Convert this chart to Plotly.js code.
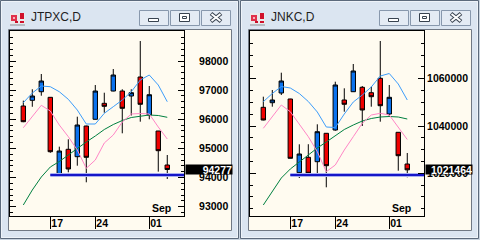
<!DOCTYPE html>
<html><head><meta charset="utf-8">
<script src="https://cdn.plot.ly/plotly-3.0.1.min.js"></script>
<style>html,body{margin:0;padding:0;background:#c9d4e0;}#chart{width:480px;height:240px;}</style>
</head><body><div id="chart"></div>
<script>
// ---------- data ----------
const dates = ['2015-08-12','2015-08-13','2015-08-14','2015-08-17','2015-08-18','2015-08-19','2015-08-20','2015-08-21',
               '2015-08-24','2015-08-25','2015-08-26','2015-08-27','2015-08-28','2015-08-31','2015-09-01','2015-09-02','2015-09-03'];
const tickDates = ['2015-08-17','2015-08-24','2015-09-01'];
const tickLabels = ['17','24','01'];
const monthDate = '2015-09-01';
const monthLabel = 'Sep';
const supportStart = '2015-08-17';

// JTPXC,D
const jtTitle = 'JTPXC,D';
const jtOpen  = [96456,96651,96946,96754,94122,94970,94716,95769,96000,96548,96970,96970,96799,97451,96147,95598,94431];
const jtHigh  = [96640,97030,97554,96760,95060,95313,96089,95780,97176,96912,97725,97030,97029,98686,97142,95600,94774];
const jtLow   = [95900,96430,96809,94850,94098,94180,94407,93837,95990,96226,96960,95519,96130,95917,96000,94203,93951];
const jtClose = [95917,96799,97314,94887,94911,94294,95804,94695,96970,96445,97520,96377,96912,96514,96843,94922,94277];
const jtBlue  = [96569,96902,97142,97118,96946,96686,96318,95838,95838,96205,96432,96662,96946,97348,97520,97176,96603];
const jtPink  = [95711,96088,96480,96284,95804,95403,94946,94318,94602,95186,95461,95907,96181,96198,96181,95735,95323];
const jtGreen = [93058,93573,94019,94362,94551,94774,95014,95220,95426,95649,95821,95958,96061,96112,96147,96130,96068];
const jtSupport = 94090;
const jtTicks = [93000,94000,95000,96000,97000,98000];

// JNKC,D
const jnTitle = 'JNKC,D';
const jnOpen  = [1047900,1049850,1053950,1051420,1020260,1026770,1024910,1036915,1038310,1051000,1054500,1056360,1054080,1060170,1045075,1037340,1023935];
const jnHigh  = [1052390,1055220,1062540,1051500,1032260,1032300,1040720,1037000,1058730,1055940,1066215,1056900,1056620,1075940,1057336,1037400,1028590];
const jnLow   = [1042400,1048160,1053100,1026300,1018020,1019600,1019700,1014084,1038000,1046050,1054400,1040000,1048160,1041820,1043800,1021100,1018310];
const jnClose = [1042540,1051000,1059030,1026345,1028160,1020000,1037590,1023216,1057340,1049180,1063260,1046770,1052390,1048580,1052136,1027440,1021464];
const jnBlue  = [1050276,1053743,1056702,1056068,1053743,1050360,1045921,1039579,1039367,1045075,1050149,1053108,1056491,1061142,1062199,1057759,1050994];
const jnPink  = [1039029,1044018,1048880,1046048,1040636,1035478,1029136,1020680,1023513,1029855,1035478,1041143,1044653,1045371,1044653,1039706,1034294];
const jnGreen = [1006601,1012520,1018016,1021821,1024781,1027741,1030700,1033237,1035985,1038522,1040425,1042116,1043173,1043807,1044018,1043807,1042961];
const jnSupport = 1019300;
const jnTicks = [1020000,1040000,1060000];

// ---------- helpers ----------
const W = 480, H = 240;
const X = px => px / W, Y = py => 1 - py / H;
const xIdx = dates.map((d, i) => i);
const xRange = [-1.48, 17.86];
const numFont = {family: 'Liberation Sans, Arial, sans-serif', size: 10.5, color: '#000', weight: 'bold'};

function traces(o, h, l, c, blue, pink, green, support, xa, ya) {
  const s0 = dates.indexOf(supportStart);
  return [
    {type: 'candlestick', x: xIdx, open: o, high: h, low: l, close: c, xaxis: xa, yaxis: ya,
     increasing: {fillcolor: '#0a72ee', line: {color: '#000', width: 1}},
     decreasing: {fillcolor: '#f00000', line: {color: '#000', width: 1}},
     whiskerwidth: 0, hoverinfo: 'skip', showlegend: false},
    {type: 'scatter', mode: 'lines', x: xIdx, y: green, xaxis: xa, yaxis: ya, line: {color: '#008040', width: 1}, hoverinfo: 'skip', showlegend: false},
    {type: 'scatter', mode: 'lines', x: xIdx, y: pink, xaxis: xa, yaxis: ya, line: {color: '#ff86c6', width: 1}, hoverinfo: 'skip', showlegend: false},
    {type: 'scatter', mode: 'lines', x: xIdx, y: blue, xaxis: xa, yaxis: ya, line: {color: '#3d9dfa', width: 1}, hoverinfo: 'skip', showlegend: false},
    {type: 'scatter', mode: 'lines', x: [s0, xRange[1]], y: [support, support], xaxis: xa, yaxis: ya, line: {color: '#aab0f0', width: 4}, hoverinfo: 'skip', showlegend: false},
    {type: 'scatter', mode: 'lines', x: [s0, xRange[1]], y: [support, support], xaxis: xa, yaxis: ya, line: {color: '#1616c8', width: 2}, hoverinfo: 'skip', showlegend: false}
  ];
}

function xAxis(ox, anchor) {
  return {domain: [X(ox + 10), X(ox + 184)], range: xRange, type: 'linear', anchor: anchor,
    showgrid: false, zeroline: false, showline: true, linecolor: '#000', linewidth: 1, mirror: true,
    ticks: 'outside', ticklen: 12, tickwidth: 1, tickcolor: '#000',
    tickmode: 'array', tickvals: tickDates.map(d => dates.indexOf(d)), ticktext: tickLabels,
    ticklabelposition: 'outside right', ticklabelstandoff: -2, tickfont: numFont,
    rangeslider: {visible: false}, fixedrange: true};
}
function yAxis(ox, anchor, range, tv, minorStep, standoff) {
  return {domain: [Y(215.7), Y(31)], range: range, anchor: anchor, side: 'right',
    showgrid: false, zeroline: false, showline: true, linecolor: '#000', linewidth: 1, mirror: 'allticks',
    ticks: 'inside', ticklen: 6, tickwidth: 1, tickcolor: '#000',
    tickmode: 'array', tickvals: tv, ticktext: tv.map(String), tickfont: numFont, ticklabelstandoff: standoff,
    minor: {tickmode: 'linear', tick0: 0, dtick: minorStep, ticks: 'inside', ticklen: 3, tickcolor: '#000', tickwidth: 1},
    fixedrange: true};
}

// ---------- window chrome ----------
function rect(x0, y0, x1, y1, fill, line, lw) {
  return {type: 'rect', xref: 'paper', yref: 'paper', x0: X(x0), y0: Y(y0), x1: X(x1), y1: Y(y1),
    fillcolor: fill, line: {color: line || 'rgba(0,0,0,0)', width: lw === undefined ? 1 : lw}, layer: 'below'};
}
function seg(x0, y0, x1, y1, color, w) {
  return {type: 'line', xref: 'paper', yref: 'paper', x0: X(x0), y0: Y(y0), x1: X(x1), y1: Y(y1),
    line: {color: color, width: w}, layer: 'below'};
}
function chrome(ox) {
  const s = [];
  s.push(rect(ox + 0.5, 0.5, ox + 238.5, 238.5, '#dbe5f1', '#5c6a7c', 1));
  s.push(rect(ox + 1.5, 1.5, ox + 237.5, 237.5, 'rgba(0,0,0,0)', '#eef3f9', 1));
  s.push(rect(ox + 8.5, 29.5, ox + 231.5, 230.5, '#fffbf0', '#707884', 1));
  // buttons
  [[139.5, 168.5], [170.5, 199.5], [201.5, 230.5]].forEach(b => {
    s.push(rect(ox + b[0], 10.5, ox + b[1], 25.5, '#e4ebf4', '#8898ad', 1));
  });
  // minimize
  s.push(rect(ox + 148.5, 18.5, ox + 158.5, 21.5, '#ffffff', '#38424f', 1));
  // maximize
  s.push(rect(ox + 179.5, 13.5, ox + 189.5, 21.5, '#ffffff', '#38424f', 1));
  s.push(rect(ox + 182.5, 16.5, ox + 186.5, 18.5, '#ffffff', '#38424f', 1));
  // close
  s.push(seg(ox + 211, 13.5, ox + 221, 21.5, '#38424f', 4));
  s.push(seg(ox + 221, 13.5, ox + 211, 21.5, '#38424f', 4));
  s.push(seg(ox + 211.5, 14, ox + 220.5, 21, '#ffffff', 2));
  s.push(seg(ox + 220.5, 14, ox + 211.5, 21, '#ffffff', 2));
  // app icon
  s.push(rect(ox + 10, 13, ox + 25, 26, '#e9e9ea', null, 0));
  s.push(rect(ox + 11, 15, ox + 17, 21, '#e0304a', null, 0));
  s.push(rect(ox + 13, 17, ox + 15, 19, '#f6b0bb', null, 0));
  s.push(rect(ox + 20, 13, ox + 24, 19, '#d0102a', null, 0));
  s.push(rect(ox + 20, 21, ox + 24, 23, '#d0102a', null, 0));
  s.push(rect(ox + 15, 21, ox + 18, 23, '#c81028', null, 0));
  s.push(rect(ox + 10, 24, ox + 25, 26, '#b8bcc2', null, 0));
  return s;
}

function titleAnn(ox, text) {
  return {xref: 'paper', yref: 'paper', x: X(ox + 29), y: Y(17), xanchor: 'left', yanchor: 'middle',
    text: text, showarrow: false, font: {family: 'Liberation Sans, Arial, sans-serif', size: 12, color: '#1e1e1e'}};
}
function monthAnn(xa, ya) {
  return {xref: xa, yref: ya + ' domain', x: dates.indexOf(monthDate), y: 0, xanchor: 'left', yanchor: 'bottom',
    xshift: 1, yshift: 0, text: monthLabel, showarrow: false, font: numFont};
}
function priceAnn(ox, ya, value) {
  return {xref: 'paper', yref: ya, x: X(ox + 185), y: value, xanchor: 'left', yanchor: 'middle',
    text: String(value), showarrow: false, bgcolor: '#000', borderpad: 0, width: 46, height: 9, align: 'right',
    font: {family: 'Liberation Sans, Arial, sans-serif', size: 10.5, color: '#fff', weight: 'bold'}};
}

const data = [].concat(
  traces(jtOpen, jtHigh, jtLow, jtClose, jtBlue, jtPink, jtGreen, jtSupport, 'x', 'y'),
  traces(jnOpen, jnHigh, jnLow, jnClose, jnBlue, jnPink, jnGreen, jnSupport, 'x2', 'y2')
);

const layout = {
  width: W, height: H, margin: {l: 0, r: 0, t: 0, b: 0, pad: 0},
  paper_bgcolor: '#c9d4e0', plot_bgcolor: '#fffbf0', showlegend: false,
  boxgap: 0.3, boxgroupgap: 0.3,
  xaxis: xAxis(0, 'y'),
  yaxis: yAxis(0, 'x', [92691, 99030], jtTicks, 200, 12),
  xaxis2: xAxis(240, 'y2'),
  yaxis2: yAxis(240, 'x2', [1002076, 1080168], jnTicks, 5000, 0),
  shapes: [].concat(chrome(0), chrome(240)),
  annotations: [
    titleAnn(0, jtTitle), titleAnn(240, jnTitle),
    monthAnn('x', 'y'), monthAnn('x2', 'y2'),
    priceAnn(0, 'y', jtClose[jtClose.length - 1]),
    priceAnn(240, 'y2', jnClose[jnClose.length - 1])
  ]
};

Plotly.newPlot('chart', data, layout, {staticPlot: true, displayModeBar: false});
</script>
</body></html>
